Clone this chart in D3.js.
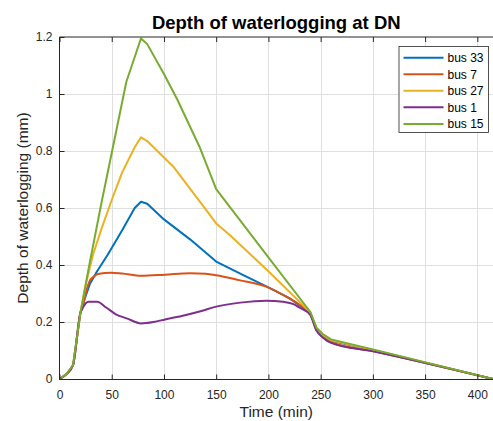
<!DOCTYPE html>
<html>
<head>
<meta charset="utf-8">
<script src="https://cdn.jsdelivr.net/npm/d3@7"></script>
<style>
  html, body { margin: 0; padding: 0; background: #fff; }
  svg { display: block; font-family: "Liberation Sans", Arial, Helvetica, sans-serif; }
</style>
</head>
<body>
<svg id="chart" width="493" height="421"></svg>
<script>
// Waterlogging depth (mm) over time (min) for five buses
const busNames = ["bus 33", "bus 7", "bus 27", "bus 1", "bus 15"];
const busColors = ["#0072BD", "#D95319", "#EDB120", "#7E2F8E", "#77AC30"];

const bus33Time  = [0, 7, 13, 20, 24, 29, 36, 46, 60, 72, 78, 84, 100, 125, 150, 175, 198, 220, 240, 246, 252, 260, 300, 415];
const bus33Depth = [0, 0.018, 0.049, 0.232, 0.28, 0.333, 0.378, 0.435, 0.522, 0.6, 0.622, 0.615, 0.56, 0.49, 0.412, 0.366, 0.325, 0.284, 0.232, 0.175, 0.152, 0.134, 0.101, 0];

const bus7Time  = [0, 7, 13, 20, 22, 25, 28.5, 33, 38, 49, 60, 78, 101, 125, 140, 150, 172, 198, 217, 230, 240, 246, 252, 260, 300, 415];
const bus7Depth = [0, 0.018, 0.049, 0.232, 0.25, 0.3, 0.341, 0.36, 0.369, 0.373, 0.37, 0.362, 0.366, 0.371, 0.369, 0.364, 0.347, 0.324, 0.289, 0.26, 0.23, 0.172, 0.148, 0.129, 0.098, 0];

const bus27Time  = [0, 7, 13, 20, 25, 32, 40, 50, 60, 72, 78, 84, 109, 138, 150, 163, 200, 240, 246, 252, 260, 300, 415];
const bus27Depth = [0, 0.018, 0.049, 0.232, 0.33, 0.435, 0.525, 0.628, 0.725, 0.813, 0.848, 0.835, 0.745, 0.605, 0.546, 0.505, 0.378, 0.234, 0.177, 0.154, 0.136, 0.102, 0];

const bus1Time  = [0, 7, 13, 20, 22, 25, 28, 36, 45, 54, 65, 78, 90, 101, 120, 135, 150, 173, 198, 214, 224, 230, 240, 246, 252, 260, 300, 415];
const bus1Depth = [0, 0.018, 0.049, 0.232, 0.248, 0.265, 0.271, 0.271, 0.25, 0.227, 0.212, 0.195, 0.2, 0.209, 0.224, 0.238, 0.254, 0.268, 0.275, 0.271, 0.263, 0.25, 0.225, 0.17, 0.146, 0.127, 0.097, 0];

const bus15Time  = [0, 7, 13, 20, 28, 40, 64, 72, 78, 84, 100, 113, 134, 150, 163, 200, 240, 246, 252, 260, 300, 415];
const bus15Depth = [0, 0.018, 0.049, 0.232, 0.39, 0.615, 1.043, 1.13, 1.195, 1.175, 1.07, 0.979, 0.815, 0.666, 0.604, 0.427, 0.236, 0.18, 0.158, 0.139, 0.104, 0];

const xTicks = [0, 50, 100, 150, 200, 250, 300, 350, 400];
const yTicks = [0, 0.2, 0.4, 0.6, 0.8, 1.0, 1.2];

const titleText = "Depth of waterlogging at DN";
const xLabelText = "Time (min)";
const yLabelText = "Depth of waterlogging (mm)";

(function draw() {
  const seriesTimes = [bus33Time, bus7Time, bus27Time, bus1Time, bus15Time];
  const seriesDepths = [bus33Depth, bus7Depth, bus27Depth, bus1Depth, bus15Depth];
  const series = busNames.map((name, i) => ({
    name,
    color: busColors[i],
    points: seriesTimes[i].map((t, j) => ({ t, v: seriesDepths[i][j] }))
  }));

  const svg = d3.select("#chart");
  const pL = 59.5, pR = 493, pT = 37, pB = 379;
  const axisColor = "#262626";

  const x = d3.scaleLinear().domain([0, 415]).range([pL, pR]);
  const y = d3.scaleLinear().domain([0, 1.2]).range([pB, pT]);

  // grid
  const grid = svg.append("g").attr("stroke", "#dfdfdf").attr("stroke-width", 1);
  grid.selectAll("line.gx").data(xTicks.filter(d => d > 0)).join("line")
    .attr("x1", d => Math.round(x(d)) + 0.5).attr("x2", d => Math.round(x(d)) + 0.5)
    .attr("y1", pT).attr("y2", pB);
  grid.selectAll("line.gy").data(yTicks.filter(d => d > 0 && d < 1.2)).join("line")
    .attr("y1", d => Math.round(y(d)) + 0.5).attr("y2", d => Math.round(y(d)) + 0.5)
    .attr("x1", pL).attr("x2", pR);

  // series lines: smooth curves for the flatter buses, straight segments for the peaked ones
  const smooth = new Set(["bus 7", "bus 1"]);
  const plot = svg.append("g");
  series.forEach(s => {
    const line = d3.line()
      .x(d => x(d.t)).y(d => y(d.v))
      .curve(smooth.has(s.name) ? d3.curveMonotoneX : d3.curveLinear);
    plot.append("path")
      .datum(s.points)
      .attr("fill", "none")
      .attr("stroke", s.color)
      .attr("stroke-width", 2)
      .attr("stroke-linejoin", "round")
      .attr("d", line);
  });

  // axes
  const xAxis = d3.axisBottom(x).tickValues(xTicks).tickFormat(d3.format("d"))
    .tickSizeInner(-5).tickSizeOuter(0).tickPadding(11);
  const gx = svg.append("g").attr("transform", `translate(0,${pB + 0.5})`).call(xAxis);
  const yAxis = d3.axisLeft(y).tickValues(yTicks)
    .tickFormat(d => d === 0 ? "0" : d === 1 ? "1" : d3.format(".1f")(d))
    .tickSizeInner(-5).tickSizeOuter(0).tickPadding(7);
  const gy = svg.append("g").attr("transform", `translate(${pL},0)`).call(yAxis);
  const xTop = d3.axisTop(x).tickValues(xTicks).tickFormat("").tickSizeInner(-5).tickSizeOuter(0);
  const gt = svg.append("g").attr("transform", `translate(0,${pT})`).call(xTop);

  [gx, gy, gt].forEach(g => {
    g.select(".domain").remove();
    g.selectAll(".tick line").attr("stroke", axisColor);
    g.selectAll(".tick text").attr("fill", axisColor)
      .style("font-family", "'Liberation Sans', Arial, sans-serif").style("font-size", "12px");
  });

  svg.append("line").attr("x1", pL).attr("x2", pR).attr("y1", pB + 0.5).attr("y2", pB + 0.5)
    .attr("stroke", axisColor).attr("stroke-width", 1);
  svg.append("line").attr("x1", pL).attr("x2", pL).attr("y1", pT).attr("y2", pB + 1)
    .attr("stroke", axisColor).attr("stroke-width", 1);
  svg.append("line").attr("x1", pL).attr("x2", pR).attr("y1", pT).attr("y2", pT)
    .attr("stroke", axisColor).attr("stroke-width", 1);

  // title and axis labels
  svg.append("text").attr("x", (pL + pR) / 2).attr("y", 29)
    .attr("text-anchor", "middle").attr("font-weight", "bold").attr("font-size", 18.5)
    .attr("fill", "#000").text(titleText);
  svg.append("text").attr("x", (pL + pR) / 2).attr("y", 417)
    .attr("text-anchor", "middle").attr("font-size", 15.5).attr("fill", axisColor).text(xLabelText);
  svg.append("text").attr("transform", `translate(27.5,${(pT + pB) / 2}) rotate(-90)`)
    .attr("text-anchor", "middle").attr("font-size", 15.5).attr("fill", axisColor).text(yLabelText);

  // legend
  const legend = svg.append("g");
  const rowH = 16.55;
  legend.append("rect").attr("x", 399).attr("y", 46.5).attr("width", 89.5).attr("height", 86)
    .attr("fill", "#fff").attr("stroke", axisColor).attr("stroke-width", 0.8);
  series.forEach((s, i) => {
    const cy = 57.7 + i * rowH;
    legend.append("line").attr("x1", 403.5).attr("x2", 443.5).attr("y1", cy).attr("y2", cy)
      .attr("stroke", s.color).attr("stroke-width", 2);
    legend.append("text").attr("x", 447.5).attr("y", cy).attr("dy", "0.36em")
      .attr("font-size", 12).attr("fill", "#000").text(s.name);
  });
})();
</script>
</body>
</html>
